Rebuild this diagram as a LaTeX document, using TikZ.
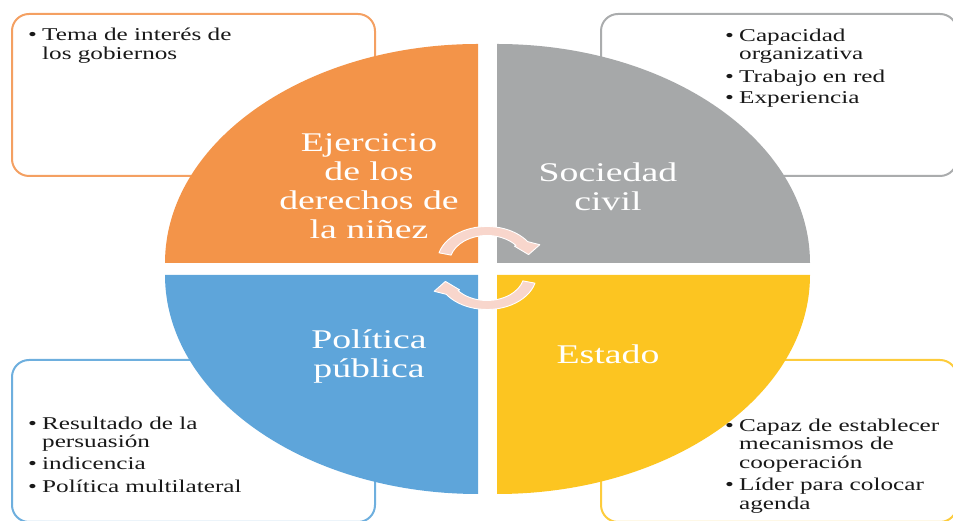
\documentclass[tikz,border=0pt]{standalone}
\usepackage{fontspec}
\setmainfont{Liberation Serif}[FakeStretch=1.4]
\definecolor{qorange}{RGB}{243,148,73}
\definecolor{qgray}{RGB}{166,168,169}
\definecolor{qblue}{RGB}{94,165,218}
\definecolor{qyellow}{RGB}{252,197,33}
\definecolor{borange}{RGB}{244,160,98}
\definecolor{bgray}{RGB}{170,172,173}
\definecolor{bblue}{RGB}{110,175,222}
\definecolor{byellow}{RGB}{253,204,60}
\definecolor{arrowpink}{RGB}{248,214,204}
\definecolor{txt}{RGB}{25,25,25}
\newcommand\bul{\makebox[14pt][l]{\textbullet}}
\tikzset{
  infobox/.style={line width=2pt, fill=white, rounded corners=17pt},
  bullets/.style={anchor=base west, inner sep=0pt, text=txt,
    font=\fontsize{18}{18}\selectfont},
  qlabel/.style={align=center, text=white, inner sep=0pt,
    font=\fontsize{27}{29}\selectfont},
  cyclearrow/.style={fill=arrowpink, draw=white, line width=0.9pt, line join=round}
}
\newcommand\cycarrow{%
  (165:35.5) arc[start angle=165, end angle=35, radius=35.5] -- (24.6:41.5) -- (14:30.6) -- (38.7:25.2)
  -- (38.7:26.5) arc[start angle=38.7, end angle=165, radius=26.5] -- cycle}
\begin{document}
\begin{tikzpicture}[x=1pt,y=1pt]
\useasboundingbox (0,0) rectangle (953,521);
\begin{scope}
\clip (0,0) rectangle (953,521);
% information boxes
\draw[infobox, draw=borange] (12,345) rectangle (375,507);
\draw[infobox, draw=bgray] (601,345) rectangle (957,507);
\draw[infobox, draw=bblue] (12,-1) rectangle (375,161);
\draw[infobox, draw=byellow] (601,-1) rectangle (957,161);
\end{scope}
% quadrants
\fill[qorange] (478,258) -- (165,258) arc[start angle=180, end angle=90, x radius=313, y radius=219] -- cycle;
\fill[qgray] (497,258) -- (497,477) arc[start angle=90, end angle=0, x radius=313, y radius=219] -- cycle;
\fill[qblue] (478,246) -- (165,246) arc[start angle=180, end angle=270, x radius=313, y radius=219] -- cycle;
\fill[qyellow] (497,246) -- (810,246) arc[start angle=0, end angle=-90, x radius=313, y radius=219] -- cycle;
% cycle arrows
\begin{scope}[shift={(487,259)}, xscale=1.4]
\path[cyclearrow] \cycarrow;
\end{scope}
\begin{scope}[shift={(487,247)}, xscale=1.4, rotate=180]
\path[cyclearrow] \cycarrow;
\end{scope}
% quadrant labels
\node[qlabel] (ejercicio) at (369,335) {Ejercicio\\de los\\derechos de\\la niñez};
\node[qlabel] (sociedad) at (608,334) {Sociedad\\civil};
\node[qlabel] (politica) at (369,165) {Política\\pública};
\node[qlabel] (estado) at (608,167) {Estado};
% bullet texts
\node[bullets] (t1) at (28,480) {\begin{tabular}[t]{@{}l@{}l@{}}
  \bul & Tema de interés de\\[0.5pt]
       & los gobiernos
  \end{tabular}};
\node[bullets] (t2) at (725,479) {\begin{tabular}[t]{@{}l@{}l@{}}
  \bul & Capacidad\\
       & organizativa\\[4.5pt]
  \bul & Trabajo en red\\[3pt]
  \bul & Experiencia
  \end{tabular}};
\node[bullets] (t3) at (28,91) {\begin{tabular}[t]{@{}l@{}l@{}}
  \bul & Resultado de la\\
       & persuasión\\[4pt]
  \bul & indicencia\\[4.5pt]
  \bul & Política multilateral
  \end{tabular}};
\node[bullets] (t4) at (725,89) {\begin{tabular}[t]{@{}l@{}l@{}}
  \bul & Capaz de establecer\\
       & mecanismos de\\[1pt]
       & cooperación\\[3.5pt]
  \bul & Líder para colocar\\[1pt]
       & agenda
  \end{tabular}};
\end{tikzpicture}
\end{document}
